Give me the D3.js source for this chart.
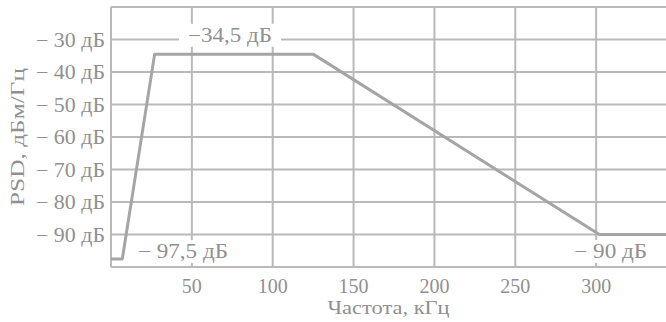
<!DOCTYPE html>
<html>
<head>
<meta charset="utf-8">
<script src="https://cdn.jsdelivr.net/npm/d3@7/dist/d3.min.js"></script>
<style>
  body { margin: 0; background: #fff; }
  svg { display: block; }
  text { font-family: "Liberation Serif", "DejaVu Serif", serif; fill: #909090; }
</style>
</head>
<body>
<div id="chart"></div>
<script>
// PSD mask, kHz / dBm/Hz
var freq = [0, 7, 27, 125, 302, 350];
var psd = [-97.5, -97.5, -34.5, -34.5, -90, -90];

var xTicks = [50, 100, 150, 200, 250, 300];
var yTicks = [-30, -40, -50, -60, -70, -80, -90];
var yLabels = ['\u2212 30 дБ', '\u2212 40 дБ', '\u2212 50 дБ', '\u2212 60 дБ', '\u2212 70 дБ', '\u2212 80 дБ', '\u2212 90 дБ'];

// annotation texts and where they sit (data coords)
var noteText = ['\u221234,5 дБ', '\u2212 97,5 дБ', '\u2212 90 дБ'];
var noteFreq = [73.6, 44.5, 309];
var noteDb = [-30.7, -97.2, -97.2];

var width = 666, height = 322;
var x = d3.scaleLinear().domain([0, 350]).range([111, 677]);
var y = d3.scaleLinear().domain([-100, -20]).range([267, 7]);

var svg = d3.select('#chart').append('svg')
    .attr('width', width)
    .attr('height', height);

var grid = svg.append('g').attr('stroke', '#b9b9b9').attr('stroke-width', 2);

// horizontal lines incl. top and bottom frame
grid.selectAll('.h').data(d3.range(-100, -19, 10))
    .enter().append('line')
    .attr('class', 'h')
    .attr('x1', x(0)).attr('x2', width)
    .attr('y1', function (d) { return y(d); })
    .attr('y2', function (d) { return y(d); });

// vertical lines incl. left frame
grid.selectAll('.v').data([0].concat(xTicks))
    .enter().append('line')
    .attr('class', 'v')
    .attr('y1', y(-20)).attr('y2', y(-100))
    .attr('x1', function (d) { return x(d); })
    .attr('x2', function (d) { return x(d); });

// y tick labels (the cyrillic in the original is wide, stretch to fit)
svg.append('g').selectAll('text').data(yTicks)
    .enter().append('text')
    .attr('x', 105)
    .attr('y', function (d) { return y(d); })
    .attr('dy', '0.35em')
    .attr('text-anchor', 'end')
    .attr('textLength', 69)
    .attr('lengthAdjust', 'spacingAndGlyphs')
    .style('font-size', '20px')
    .text(function (d, i) { return yLabels[i]; });

// x tick labels
svg.append('g').selectAll('text').data(xTicks)
    .enter().append('text')
    .attr('x', function (d) { return x(d); })
    .attr('y', 293)
    .attr('text-anchor', 'middle')
    .style('font-size', '20px')
    .text(function (d) { return d; });

// axis titles
svg.append('text')
    .attr('x', (x(0) + width) / 2)
    .attr('y', 314)
    .attr('text-anchor', 'middle')
    .attr('textLength', 122)
    .attr('lengthAdjust', 'spacingAndGlyphs')
    .style('font-size', '19px')
    .text('Частота, кГц');

svg.append('text')
    .attr('transform', 'translate(24,' + (y(-60)) + ') rotate(-90)')
    .attr('text-anchor', 'middle')
    .attr('textLength', 138)
    .attr('lengthAdjust', 'spacingAndGlyphs')
    .style('font-size', '19px')
    .text('PSD, дБм/Гц');

// annotations with white boxes hiding the grid behind them
var noteLen = [84, 90, 73];
var notes = svg.append('g').selectAll('g').data(noteText)
    .enter().append('g');

notes.each(function (t, i) {
    var g = d3.select(this);
    var rect = g.append('rect').attr('fill', '#fff');
    var txt = g.append('text')
        .attr('x', x(noteFreq[i]))
        .attr('y', y(noteDb[i]))
        .attr('text-anchor', 'middle')
        .attr('textLength', noteLen[i])
        .attr('lengthAdjust', 'spacingAndGlyphs')
        .style('font-size', '20px')
        .text(t);
    var b = txt.node().getBBox();
    rect.attr('x', b.x - 9).attr('y', b.y)
        .attr('width', b.width + 18).attr('height', b.height);
});

// the mask line
var line = d3.line()
    .x(function (d) { return x(d); })
    .y(function (d, i) { return y(psd[i]); });

svg.append('path')
    .datum(freq)
    .attr('d', line)
    .attr('fill', 'none')
    .attr('stroke', '#a5a5a5')
    .attr('stroke-width', 3)
    .attr('stroke-linejoin', 'round');
</script>
</body>
</html>
